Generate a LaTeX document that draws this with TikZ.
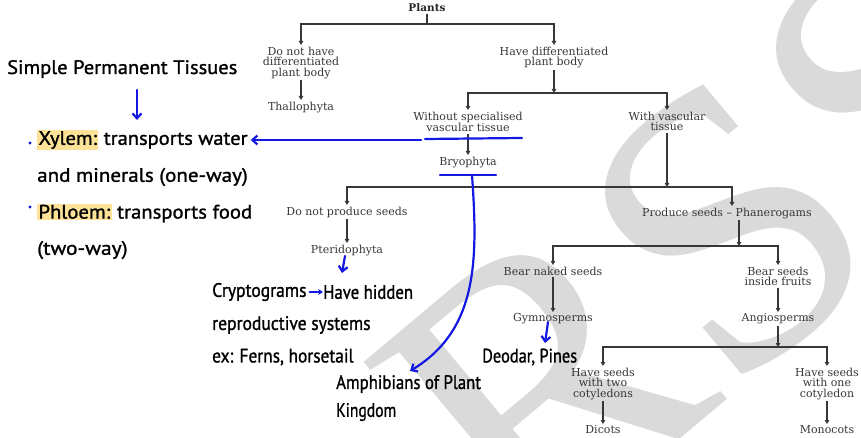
\documentclass[tikz,border=0pt]{standalone}
\usepackage{fontspec}
\usepackage{graphicx}
\setmainfont{DejaVu Serif}
\newfontfamily\handfont[FakeBold=1.2]{PT Sans}
\newfontfamily\wmfont{Liberation Serif}
\usetikzlibrary{arrows.meta}
\definecolor{ink}{RGB}{55,55,55}
\definecolor{pen}{RGB}{20,25,225}
\definecolor{hly}{RGB}{252,226,150}
\definecolor{wm}{RGB}{218,218,218}
\newcommand{\hlword}[1]{{\setlength{\fboxsep}{1.2pt}\colorbox{hly}{#1}}}
\newcommand{\sx}[2]{\scalebox{#1}[1]{#2}}
\begin{document}
\begin{tikzpicture}[x=1pt,y=-1pt,
 lbl/.style={font=\fontsize{11}{10.6}\selectfont, text=ink, align=center, inner sep=1.5pt, anchor=north},
 link/.style={draw=ink, line width=1.1pt},
 arr/.style={link, -{Triangle[length=4pt,width=4.5pt]}},
 hw/.style={font=\handfont\fontsize{19.5}{20}\selectfont, anchor=west, inner sep=0pt, text=black},
 penline/.style={draw=pen, line width=2.2pt, line cap=round},
 penarr/.style={penline, -{Straight Barb[length=5pt,width=9pt]}},
 pensmall/.style={penline, -{Stealth[length=5pt,width=6pt]}},
 wmletter/.style={font=\wmfont\fontsize{400}{400}\selectfont, text=wm, inner sep=0pt, rotate=40},
 ]
\useasboundingbox (0,0) rectangle (861,438);
\fill[white] (0,0) rectangle (861,438);
% watermark
\node[wmletter] (wm) at (712,242) {RSS};

% tree
\node[font=\fontsize{10.5}{12}\selectfont\bfseries, text=black!85, inner sep=1.5pt] (plants) at (427,8) {Plants};
\coordinate (j1) at (427,24);
\node[lbl] (dnh) at (301,45) {Do not have\\differentiated\\plant body};
\node[lbl] (thal) at (301,100) {Thallophyta};
\node[lbl] (hdp) at (554,45) {Have differentiated\\plant body};
\coordinate (j2) at (554,93);
\node[lbl] (wst) at (468,110) {Without specialised\\vascular tissue};
\node[lbl] (bryo) at (468,155) {Bryophyta};
\node[lbl] (wvt) at (667,110) {With vascular\\tissue};
\coordinate (j3) at (667,187);
\node[lbl] (dnps) at (347,205) {Do not produce seeds};
\node[lbl] (pter) at (347,243) {Pteridophyta};
\node[lbl] (ps) at (727,206) {Produce seeds -- Phanerogams};
\coordinate (psin) at (732,206);
\coordinate (j4) at (739,246);
\node[lbl] (bns) at (553,265) {Bear naked seeds};
\node[lbl] (gym) at (553,312) {Gymnosperms};
\node[lbl] (bsif) at (778,265) {Bear seeds\\inside fruits};
\node[lbl] (ang) at (778,312) {Angiosperms};
\coordinate (j5) at (778,347);
\node[lbl] (two) at (603,366) {Have seeds\\with two\\cotyledons};
\node[lbl] (dic) at (603,424) {Dicots};
\node[lbl] (one) at (827,366) {Have seeds\\with one\\cotyledon};
\node[lbl] (mono) at (827,424) {Monocots};

\draw[link] (plants) -- (j1);
\draw[arr] (j1) -| (dnh.north);
\draw[arr] (j1) -| (hdp.north);
\draw[arr] (dnh) -- (thal);
\draw[arr] (hdp) -- (j2);
\draw[arr] (j2) -| (wst.north);
\draw[arr] (j2) -| (wvt.north);
\draw[arr] (wst) -- (bryo);
\draw[arr] (wvt) -- (j3);
\draw[arr] (j3) -| (dnps.north);
\draw[arr] (j3) -| (psin);
\draw[arr] (dnps) -- (pter);
\draw[arr] (ps.south -| j4) -- (j4);
\draw[arr] (j4) -| (bns.north);
\draw[arr] (j4) -| (bsif.north);
\draw[arr] (bns) -- (gym);
\draw[arr] (bsif) -- (ang);
\draw[arr] (ang) -- (j5);
\draw[arr] (j5) -| (two.north);
\draw[arr] (j5) -| (one.north);
\draw[arr] (two) -- (dic);
\draw[arr] (one) -- (mono);

% handwritten notes
\node[hw] (spt) at (7,69) {\sx{1.05}{Simple Permanent Tissues}};
\coordinate (sptA) at (137,90);
\coordinate (sptB) at (137,120);
\draw[penarr] (sptA) -- (sptB);
\node[circle, fill=pen, inner sep=1.1pt] (dot1) at (30,143) {};
\node[circle, fill=pen, inner sep=1.1pt] (dot2) at (30,207) {};
\node[hw] (xy1) at (37,140) {\sx{1.05}{\hlword{Xylem:} transports water}};
\node[hw] (xy2) at (37,177) {\sx{1.08}{and minerals (one-way)}};
\node[hw] (ph1) at (37,213) {\sx{1.06}{\hlword{Phloem:} transports food}};
\node[hw] (ph2) at (37,250) {\sx{1.1}{(two-way)}};

\coordinate (vtA) at (425,139);
\coordinate (vtB) at (522,138);
\draw[penline] (vtA) -- (vtB);
\coordinate (xyfrom) at (421,140);
\draw[penarr] (xyfrom) -- ([xshift=3pt]xy1.east);

\coordinate (brA) at (440,175);
\coordinate (brB) at (496,175);
\draw[penline] (brA) -- (brB);
\coordinate (brC) at (472,175);
\coordinate (amphtip) at (410,371);
\draw[penarr] (brC) .. controls (478,260) and (478,330) .. (amphtip);

\coordinate (ptA) at (345,256);
\coordinate (ptB) at (342,273);
\draw[penarr] (ptA) -- (ptB);
\node[hw] (cr1) at (212,292) {\sx{0.9}{Cryptograms}};
\node[hw] (hh) at (323,292) {\sx{0.86}{Have hidden}};
\draw[pensmall] ([xshift=3pt]cr1.east) -- (hh.west);
\node[hw] (cr2) at (212,325) {\sx{0.9}{reproductive systems}};
\node[hw] (cr3) at (212,357) {\sx{0.89}{ex: Ferns, horsetail}};
\node[hw] (amph1) at (336,384) {\sx{0.86}{Amphibians of Plant}};
\node[hw] (amph2) at (336,412) {\sx{0.8}{Kingdom}};

\coordinate (gyA) at (548,322);
\coordinate (gyB) at (545,343);
\draw[penarr] (gyA) -- (gyB);
\node[hw] (deo) at (482,357) {\sx{0.84}{Deodar, Pines}};
\end{tikzpicture}
\end{document}
